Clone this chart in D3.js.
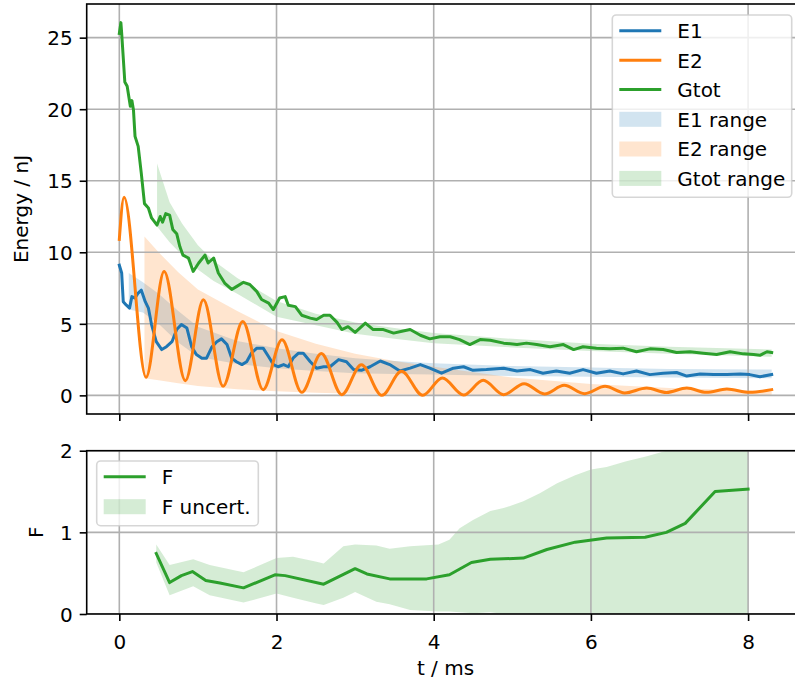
<!DOCTYPE html>
<html>
<head>
<meta charset="utf-8">
<script src="https://cdn.jsdelivr.net/npm/d3@7"></script>
<style>
  body { margin: 0; background: #fff; }
  svg { display: block; font-family: "DejaVu Sans", sans-serif; }
</style>
</head>
<body>
<svg id="chart" width="795" height="686"></svg>
<script>
// ---- data (t in ms, energies in nJ) ----
const E1_T = [0, 0.03, 0.05, 0.09, 0.13, 0.16, 0.20, 0.24, 0.28, 0.33, 0.37, 0.41, 0.47, 0.54, 0.60, 0.67, 0.73, 0.79, 0.86, 0.92, 0.98, 1.05, 1.11, 1.18, 1.24, 1.30, 1.37, 1.43, 1.49, 1.56, 1.62, 1.68, 1.75, 1.83, 1.90, 1.96, 2.02, 2.09, 2.15, 2.21, 2.28, 2.34, 2.43, 2.51, 2.60, 2.68, 2.79, 2.89, 2.98, 3.08, 3.19, 3.32, 3.44, 3.57, 3.70, 3.83, 3.95, 4.10, 4.25, 4.38, 4.50, 4.67, 4.89, 5.06, 5.23, 5.39, 5.56, 5.73, 5.90, 6.07, 6.24, 6.41, 6.58, 6.75, 6.92, 7.09, 7.22, 7.39, 7.56, 7.73, 7.90, 8.02, 8.15, 8.30]
const E1_V = [9.1, 8.55, 6.55, 6.3, 6.1, 6.9, 6.8, 7.15, 7.35, 6.55, 6.1, 4.95, 3.75, 3.2, 3.4, 3.75, 4.6, 4.95, 4.7, 3.4, 2.85, 2.6, 2.6, 3.4, 3.75, 3.95, 3.55, 2.6, 2.35, 2.15, 2.35, 2.95, 3.3, 3.3, 2.7, 2.15, 2.0, 2.15, 2.0, 2.6, 2.95, 2.95, 2.35, 1.9, 2.0, 2.0, 2.5, 2.35, 1.8, 1.75, 2.0, 2.4, 2.15, 1.7, 1.9, 2.15, 1.9, 1.55, 1.9, 2.0, 1.75, 1.8, 1.9, 1.7, 1.8, 1.55, 1.7, 1.55, 1.8, 1.55, 1.7, 1.5, 1.7, 1.45, 1.55, 1.6, 1.35, 1.5, 1.45, 1.45, 1.5, 1.45, 1.3, 1.45]

// E2 oscillates: start, then alternating peaks / troughs
const E2_T = [0, 0.06, 0.34, 0.57, 0.84, 1.07, 1.32, 1.57, 1.83, 2.07, 2.32, 2.57, 2.83, 3.08, 3.34, 3.59, 3.86, 4.11, 4.38, 4.63, 4.89, 5.15, 5.41, 5.66, 5.92, 6.18, 6.43, 6.71, 6.96, 7.22, 7.47, 7.73, 8.02, 8.30]
const E2_V = [10.9, 13.85, 1.26, 8.66, 1.03, 6.68, 0.63, 5.17, 0.40, 3.89, 0.21, 2.93, 0.05, 2.14, 0.0, 1.68, 0.0, 1.21, 0.02, 1.05, 0.05, 0.82, 0.10, 0.70, 0.12, 0.63, 0.17, 0.51, 0.20, 0.51, 0.21, 0.44, 0.21, 0.40]

const GTOT_T = [0, 0.02, 0.03, 0.07, 0.10, 0.14, 0.16, 0.18, 0.20, 0.24, 0.28, 0.32, 0.37, 0.41, 0.48, 0.52, 0.55, 0.59, 0.64, 0.68, 0.73, 0.77, 0.81, 0.88, 0.94, 1.01, 1.09, 1.13, 1.20, 1.26, 1.34, 1.43, 1.49, 1.58, 1.66, 1.75, 1.81, 1.90, 1.96, 2.04, 2.11, 2.15, 2.24, 2.32, 2.43, 2.51, 2.60, 2.68, 2.77, 2.83, 2.91, 3.00, 3.13, 3.23, 3.36, 3.49, 3.61, 3.70, 3.83, 3.95, 4.08, 4.21, 4.33, 4.46, 4.59, 4.72, 4.89, 5.06, 5.18, 5.31, 5.48, 5.65, 5.78, 5.90, 6.07, 6.24, 6.41, 6.58, 6.75, 6.92, 7.09, 7.26, 7.43, 7.60, 7.77, 7.94, 8.07, 8.15, 8.24, 8.30]
const GTOT_V = [25.3, 26.05, 25.3, 21.9, 21.6, 20.2, 20.6, 19.95, 18.1, 17.4, 15.5, 13.4, 13.1, 12.4, 11.9, 12.5, 12.1, 12.7, 12.6, 11.6, 11.3, 10.4, 9.8, 9.6, 8.66, 9.25, 9.8, 9.25, 9.6, 8.55, 7.85, 7.4, 7.6, 7.9, 7.75, 7.25, 6.7, 6.45, 6.0, 6.8, 6.9, 6.3, 6.2, 5.6, 5.4, 5.3, 5.6, 5.6, 5.1, 4.6, 4.8, 4.4, 5.05, 4.6, 4.6, 4.35, 4.5, 4.6, 4.2, 3.95, 4.1, 4.1, 3.9, 3.55, 3.9, 3.85, 3.65, 3.55, 3.65, 3.55, 3.4, 3.55, 3.2, 3.4, 3.3, 3.25, 3.3, 3.05, 3.25, 3.2, 3.0, 3.05, 2.95, 2.85, 3.05, 2.9, 2.85, 2.8, 3.05, 3.0]

// ranges (lower / upper edges)
const E1R_T = [0.12, 0.3, 0.5, 0.75, 1.0, 1.5, 2.0, 2.5, 3.0, 3.5, 4.0, 5.0, 6.0, 7.0, 8.3]
const E1R_HI = [8.55, 7.9, 7.1, 5.9, 4.8, 3.8, 3.3, 2.9, 2.6, 2.4, 2.25, 2.05, 1.95, 1.85, 1.8]
const E1R_LO = [6.0, 5.8, 5.0, 3.7, 2.7, 2.2, 1.9, 1.7, 1.55, 1.5, 1.45, 1.35, 1.3, 1.25, 1.2]

const E2R_T = [0.32, 0.5, 0.75, 1.0, 1.5, 2.0, 2.5, 3.0, 3.5, 4.0, 5.0, 6.0, 7.0, 8.3]
const E2R_HI = [11.1, 10.0, 8.6, 7.4, 5.9, 4.5, 3.6, 2.9, 2.4, 2.0, 1.25, 0.8, 0.52, 0.28]
const E2R_LO = [1.2, 1.05, 0.85, 0.65, 0.42, 0.28, 0.18, 0.12, 0.08, 0.05, 0.03, 0.02, 0.01, 0.0]

const GTOTR_T = [0.48, 0.64, 0.8, 1.0, 1.2, 1.5, 2.0, 2.5, 3.0, 3.5, 4.0, 5.0, 6.0, 7.0, 8.3]
const GTOTR_HI = [16.2, 13.5, 12.0, 10.5, 9.4, 8.2, 6.6, 5.7, 5.1, 4.7, 4.35, 3.95, 3.6, 3.4, 3.2]
const GTOTR_LO = [11.8, 10.7, 9.8, 8.8, 8.0, 7.1, 5.5, 4.9, 4.3, 3.95, 3.65, 3.35, 3.1, 2.9, 2.7]

// bottom panel
const F_T = [0.47, 0.64, 0.79, 0.93, 1.10, 1.28, 1.58, 1.98, 2.11, 2.60, 3.00, 3.15, 3.44, 3.91, 4.20, 4.48, 4.72, 5.14, 5.44, 5.80, 6.20, 6.69, 6.96, 7.20, 7.58, 8.00]
const F_V = [0.74, 0.385, 0.47, 0.52, 0.41, 0.38, 0.32, 0.48, 0.47, 0.365, 0.555, 0.49, 0.43, 0.43, 0.48, 0.63, 0.67, 0.685, 0.79, 0.88, 0.93, 0.94, 1.0, 1.11, 1.50, 1.53]

const FU_T = [0.47, 0.64, 0.94, 1.15, 1.58, 2.0, 2.21, 2.51, 2.6, 2.85, 3.0, 3.27, 3.44, 3.7, 4.06, 4.2, 4.33, 4.5, 4.72, 4.9, 5.14, 5.35, 5.57, 5.8, 6.0, 6.2, 6.45, 6.7, 6.96, 7.2, 7.5, 7.8, 8.0]
const FU_HI = [0.85, 0.6, 0.67, 0.6, 0.51, 0.685, 0.7, 0.64, 0.62, 0.83, 0.85, 0.84, 0.8, 0.83, 0.85, 0.91, 1.05, 1.15, 1.26, 1.3, 1.38, 1.48, 1.6, 1.7, 1.77, 1.8, 1.87, 1.93, 2.0, 2.1, 2.2, 2.3, 2.35]
const FU_LO = [0.63, 0.23, 0.34, 0.23, 0.14, 0.25, 0.2, 0.13, 0.11, 0.2, 0.27, 0.15, 0.12, 0.05, 0.03, 0.03, 0.02, 0.01, 0.02, 0.0, 0.01, 0.0, 0.01, 0.0, 0.01, 0.0, 0.0, 0.0, 0.01, 0.0, 0.0, 0.0, 0.0]

const X_TICKS = [0, 2, 4, 6, 8]
const Y_TOP_TICKS = [0, 5, 10, 15, 20, 25]
const Y_BOT_TICKS = [0, 1, 2]

const COLOR_E1 = "#1f77b4"
const COLOR_E2 = "#ff7f0e"
const COLOR_G = "#2ca02c"
const FONT_SIZE = 20
const GRID_COLOR = "#b0b0b0"

const svg = d3.select("#chart")

const X_SCALE = d3.scaleLinear().domain([-0.415, 8.715]).range([86.7, 804.3])
const Y_TOP = d3.scaleLinear().domain([-1.3025, 27.3525]).range([414, 4])
const Y_BOT = d3.scaleLinear().domain([0, 2]).range([614, 450.7])

const pts = (t, v) => t.map((d, i) => ({t: d, v: v[i]}))
const band = (t, lo, hi) => t.map((d, i) => ({t: d, lo: lo[i], hi: hi[i]}))

svg.append("rect").attr("width", 795).attr("height", 686).attr("fill", "white")

function makePanel(id, yScale, yTicks, showXLabels) {
    const [x0, x1] = X_SCALE.range()
    const [yb, yt] = yScale.range()
    const g = svg.append("g").attr("id", id)

    g.append("clipPath").attr("id", id + "Clip")
        .append("rect").attr("x", x0).attr("y", yt).attr("width", x1 - x0).attr("height", yb - yt)

    const plot = g.append("g").attr("clip-path", `url(#${id}Clip)`)
    const bands = plot.append("g")
    const grid = plot.append("g")
    const lines = plot.append("g")

    // Grid
    grid.selectAll(".vgrid").data(X_TICKS).join("line")
        .attr("x1", d => X_SCALE(d)).attr("x2", d => X_SCALE(d))
        .attr("y1", yt).attr("y2", yb)
        .attr("stroke", GRID_COLOR).attr("stroke-width", 1.6)
    grid.selectAll(".hgrid").data(yTicks).join("line")
        .attr("x1", x0).attr("x2", x1)
        .attr("y1", d => yScale(d)).attr("y2", d => yScale(d))
        .attr("stroke", GRID_COLOR).attr("stroke-width", 1.6)

    // Axes
    const xAxis = g.append("g")
        .attr("transform", `translate(0, ${yb})`)
        .call(d3.axisBottom(X_SCALE).tickValues(X_TICKS).tickFormat(d3.format("d"))
            .tickSize(7).tickSizeOuter(0).tickPadding(7))
    const yAxis = g.append("g")
        .attr("transform", `translate(${x0}, 0)`)
        .call(d3.axisLeft(yScale).tickValues(yTicks).tickFormat(d3.format("d"))
            .tickSize(7).tickSizeOuter(0).tickPadding(7))
    for (const ax of [xAxis, yAxis]) {
        ax.select(".domain").remove()
        ax.selectAll(".tick line").attr("stroke", "black").attr("stroke-width", 1.6)
        ax.selectAll("text").attr("font-size", FONT_SIZE).attr("fill", "black")
            .attr("font-family", "DejaVu Sans")
    }
    yAxis.selectAll("text").attr("dy", "0.36em")
    if (showXLabels)
        xAxis.selectAll("text").attr("y", 35).attr("dy", 0)
    else
        xAxis.selectAll("text").remove()

    // Spines
    g.append("rect")
        .attr("x", x0).attr("y", yt).attr("width", x1 - x0).attr("height", yb - yt)
        .attr("fill", "none").attr("stroke", "black").attr("stroke-width", 1.6)

    return {bands, lines, y: yScale}
}

function drawBand(panel, data, color) {
    const area = d3.area()
        .x(d => X_SCALE(d.t))
        .y0(d => panel.y(d.lo))
        .y1(d => panel.y(d.hi))
    panel.bands.append("path").datum(data)
        .attr("d", area)
        .attr("fill", color).attr("fill-opacity", 0.2)
}

function drawLine(panel, data, color, curve) {
    const line = d3.line()
        .x(d => X_SCALE(d.t))
        .y(d => panel.y(d.v))
        .curve(curve || d3.curveLinear)
    panel.lines.append("path").datum(data)
        .attr("d", line)
        .attr("fill", "none").attr("stroke", color).attr("stroke-width", 3)
        .attr("stroke-linejoin", "round").attr("stroke-linecap", "square")
}

function drawLegend(x, y, w, h, rowY, items) {
    const g = svg.append("g")
    g.append("rect")
        .attr("x", x).attr("y", y).attr("width", w).attr("height", h).attr("rx", 4)
        .attr("fill", "white").attr("fill-opacity", 0.8)
        .attr("stroke", "#cccccc").attr("stroke-opacity", 0.8).attr("stroke-width", 1.6)
    items.forEach((it, i) => {
        const cy = rowY[i]
        if (it.type === "line") {
            g.append("line")
                .attr("x1", x + 7).attr("x2", x + 49).attr("y1", cy).attr("y2", cy)
                .attr("stroke", it.color).attr("stroke-width", 3)
        } else {
            g.append("rect")
                .attr("x", x + 7).attr("y", cy - 7.5).attr("width", 42).attr("height", 15)
                .attr("fill", it.color).attr("fill-opacity", 0.2)
        }
        g.append("text")
            .attr("x", x + 65).attr("y", cy).attr("dy", "0.36em")
            .attr("font-size", FONT_SIZE).attr("fill", "black")
            .text(it.label)
    })
}

// ---- top panel ----
const topPanel = makePanel("topPanel", Y_TOP, Y_TOP_TICKS, false)
drawBand(topPanel, band(E1R_T, E1R_LO, E1R_HI), COLOR_E1)
drawBand(topPanel, band(E2R_T, E2R_LO, E2R_HI), COLOR_E2)
drawBand(topPanel, band(GTOTR_T, GTOTR_LO, GTOTR_HI), COLOR_G)
drawLine(topPanel, pts(E1_T, E1_V), COLOR_E1)
drawLine(topPanel, pts(E2_T, E2_V), COLOR_E2, d3.curveMonotoneX)
drawLine(topPanel, pts(GTOT_T, GTOT_V), COLOR_G)

// ---- bottom panel ----
const bottomPanel = makePanel("bottomPanel", Y_BOT, Y_BOT_TICKS, true)
drawBand(bottomPanel, band(FU_T, FU_LO, FU_HI), COLOR_G)
drawLine(bottomPanel, pts(F_T, F_V), COLOR_G)

// Axis labels
svg.append("text")
    .attr("transform", "translate(28, 209) rotate(-90)")
    .attr("text-anchor", "middle").attr("font-size", FONT_SIZE)
    .text("Energy / nJ")
svg.append("text")
    .attr("transform", "translate(43, 532.3) rotate(-90)")
    .attr("text-anchor", "middle").attr("font-size", FONT_SIZE)
    .text("F")
svg.append("text")
    .attr("x", 445.5).attr("y", 675)
    .attr("text-anchor", "middle").attr("font-size", FONT_SIZE)
    .text("t / ms")

// Legends
drawLegend(612.3, 15, 179.4, 182.3, [30.7, 60.3, 89.5, 119.3, 149, 178.4], [
    {type: "line", color: COLOR_E1, label: "E1"},
    {type: "line", color: COLOR_E2, label: "E2"},
    {type: "line", color: COLOR_G, label: "Gtot"},
    {type: "patch", color: COLOR_E1, label: "E1 range"},
    {type: "patch", color: COLOR_E2, label: "E2 range"},
    {type: "patch", color: COLOR_G, label: "Gtot range"}
])
drawLegend(96.7, 461, 161.6, 64.7, [476.7, 506.7], [
    {type: "line", color: COLOR_G, label: "F"},
    {type: "patch", color: COLOR_G, label: "F uncert."}
])
</script>
</body>
</html>
